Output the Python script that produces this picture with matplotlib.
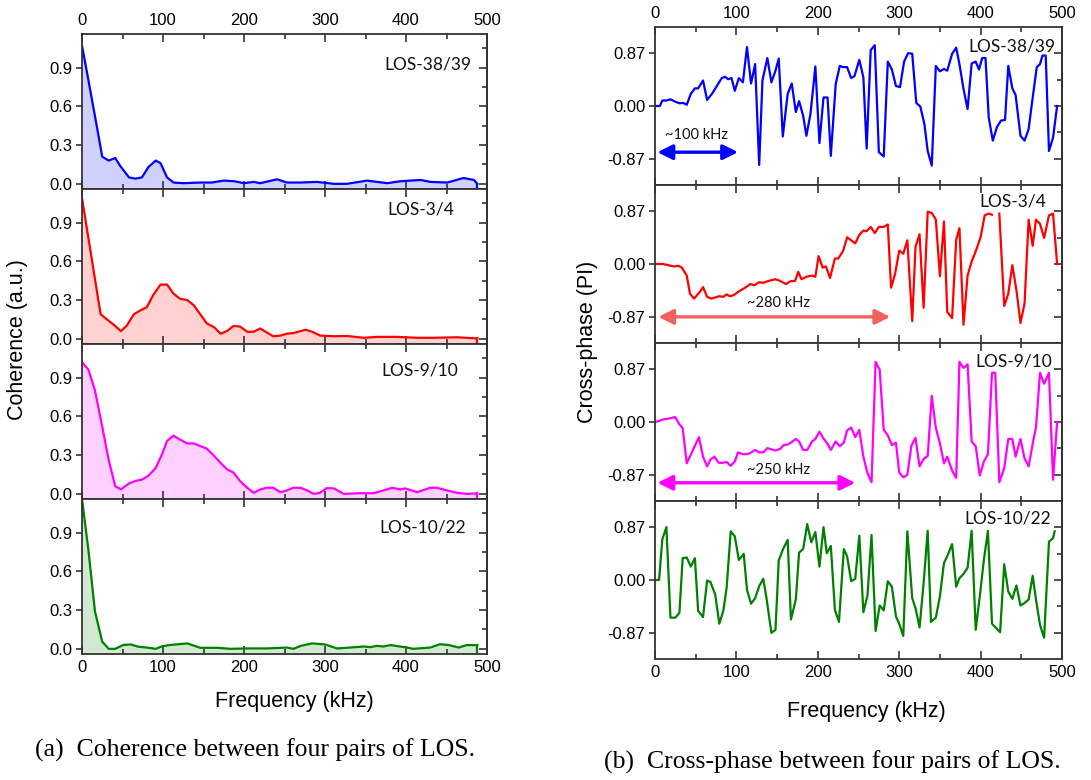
import numpy as np
import matplotlib.pyplot as plt
from matplotlib.ticker import MultipleLocator, FixedLocator

# ---- coherence (left column) ----
coh_freq_1 = [0, 8, 17, 25, 33, 41, 47, 58, 66, 74, 82, 91, 97, 105, 113, 125, 146, 160, 175, 188,
              200, 212, 220, 241, 253, 270, 290, 311, 327, 352, 377, 393, 418, 430, 451, 471, 484, 488]
coh_val_1 = [1.07, 0.80, 0.49, 0.21, 0.18, 0.20, 0.14, 0.05, 0.04, 0.05, 0.13, 0.18, 0.16, 0.05, 0.01,
             0.005, 0.01, 0.01, 0.025, 0.02, 0.005, 0.015, 0.005, 0.035, 0.01, 0.01, 0.015, 0.0, 0.0,
             0.025, 0.005, 0.02, 0.03, 0.015, 0.01, 0.045, 0.03, 0.0]

coh_freq_2 = [0, 23, 31, 41, 48, 55, 64, 72, 80, 88, 97, 105, 113, 121, 130, 138, 146, 154, 163, 171,
              179, 187, 195, 204, 212, 220, 228, 236, 245, 253, 261, 270, 276, 284, 294, 311, 327, 348,
              364, 389, 414, 434, 463, 488]
coh_val_2 = [1.09, 0.19, 0.15, 0.10, 0.06, 0.10, 0.19, 0.22, 0.245, 0.34, 0.42, 0.42, 0.35, 0.31, 0.30,
             0.26, 0.19, 0.12, 0.09, 0.04, 0.06, 0.10, 0.095, 0.055, 0.055, 0.08, 0.05, 0.02, 0.025,
             0.04, 0.045, 0.06, 0.07, 0.055, 0.025, 0.02, 0.022, 0.008, 0.015, 0.015, 0.008, 0.008,
             0.012, 0.003]

coh_freq_3 = [0, 8, 16, 25, 33, 41, 48, 58, 66, 74, 82, 91, 99, 105, 113, 121, 130, 138, 146, 154,
              163, 171, 179, 187, 195, 204, 212, 220, 228, 236, 245, 253, 261, 270, 278, 286, 294, 302,
              311, 323, 344, 360, 372, 383, 393, 399, 414, 430, 438, 451, 463, 475, 488]
coh_val_3 = [1.02, 0.96, 0.80, 0.52, 0.26, 0.06, 0.035, 0.08, 0.10, 0.11, 0.14, 0.20, 0.31, 0.41, 0.45,
             0.42, 0.39, 0.39, 0.37, 0.35, 0.295, 0.24, 0.19, 0.165, 0.10, 0.047, 0.008, 0.034, 0.047,
             0.047, 0.013, 0.026, 0.047, 0.047, 0.026, 0.0, 0.008, 0.044, 0.042, 0.0, 0.005, 0.005,
             0.026, 0.047, 0.034, 0.042, 0.013, 0.047, 0.047, 0.026, 0.008, 0.0, 0.003]

coh_freq_4 = [0, 8, 16, 25, 33, 41, 51, 60, 70, 80, 91, 99, 109, 130, 146, 167, 183, 204, 228, 253,
              261, 270, 284, 300, 315, 331, 348, 356, 364, 372, 381, 401, 409, 430, 442, 453, 465, 475, 488]
coh_val_4 = [1.16, 0.76, 0.29, 0.055, 0.0, 0.0, 0.03, 0.034, 0.016, 0.01, 0.0, 0.02, 0.03, 0.042, 0.008,
             0.008, 0.0, 0.003, 0.003, 0.01, 0.0, 0.023, 0.042, 0.034, 0.003, 0.01, 0.018, 0.013, 0.023,
             0.018, 0.029, 0.01, 0.0, 0.01, 0.036, 0.029, 0.01, 0.029, 0.029]

# ---- cross-phase (right column) ----
cp_freq_1 = [0, 6, 9, 14, 19, 25, 30, 35, 39, 44, 49, 53, 59, 64, 70, 76, 82, 86, 90, 94,
             98, 103, 108, 113, 118, 123, 128, 132, 138, 143, 148, 152, 157, 163, 168, 173, 177, 182, 186, 191,
             197, 202, 207, 212, 216, 222, 227, 231, 236, 241, 245, 251, 256, 260, 265, 270, 275, 281, 286, 291,
             296, 301, 306, 311, 316, 321, 326, 331, 335, 340, 345, 350, 355, 359, 365, 370, 374, 379, 384, 389,
             394, 398, 402, 406, 410, 415, 420, 425, 430, 434, 439, 443, 449, 454, 459, 464, 469, 473, 476, 480,
             484, 489, 494]
cp_val_1 = [0, 0, 0.09, 0.09, 0.11, 0.07, 0.045, 0.05, 0.02, 0.2, 0.29, 0.29, 0.42, 0.10, 0.2, 0.33, 0.46, 0.48, 0.44, 0.46,
            0.25, 0.46, 0.39, 0.97, 0.37, 0.69, -0.97, 0.42, 0.79, 0.39, 0.58, 0.78, -0.5, 0.2, 0.37, -0.10, 0.08, -0.16, -0.49, -0.13,
            0.65, -0.61, 0.14, 0.14, -0.82, 0.36, 0.66, 0.64, 0.64, 0.46, 0.49, 0.76, 0.47, -0.70, 0.92, 1.00, -0.76, -0.83, 0.73, 0.60,
            0.33, 0.31, 0.73, 0.87, 0.86, 0.05, -0.01, -0.30, -0.74, -0.98, 0.66, 0.57, 0.61, 0.58, 0.86, 0.96, 0.69, 0.28, -0.05, 0.70,
            0.73, 0.60, 0.79, 0.79, -0.19, -0.57, -0.35, -0.24, -0.23, 0.66, 0.29, 0.18, -0.49, -0.57, -0.38, 0.14, 0.64, 0.69, 0.83, 0.83,
            -0.74, -0.52, 0]

cp_freq_2 = [0, 10, 23, 29, 33, 39, 43, 48, 55, 59, 64, 69, 74, 79, 84, 88, 92, 97, 102, 107,
             113, 117, 122, 128, 133, 139, 148, 154, 161, 167, 172, 176, 180, 186, 193, 197, 201, 206, 210, 215,
             221, 225, 231, 236, 241, 246, 251, 256, 260, 265, 270, 275, 281, 286, 290, 295, 300, 305, 310, 316,
             320, 325, 330, 335, 340, 345, 350, 355, 359, 365, 370, 374, 379, 384, 389, 394, 400, 405, 410, 414,
             418, 423, 429, 434, 439, 444, 449, 454, 459, 464, 468, 473, 478, 484, 489, 494]
cp_val_2 = [0, 0, -0.04, -0.03, -0.06, -0.19, -0.49, -0.57, -0.46, -0.38, -0.54, -0.57, -0.55, -0.53, -0.54, -0.50, -0.53, -0.51, -0.46, -0.42,
            -0.37, -0.33, -0.35, -0.30, -0.31, -0.28, -0.25, -0.28, -0.33, -0.28, -0.28, -0.13, -0.25, -0.21, -0.19, -0.21, 0.13, -0.06, -0.04, -0.23,
            0.09, 0.09, 0.21, 0.44, 0.39, 0.34, 0.48, 0.55, 0.54, 0.61, 0.51, 0.61, 0.61, 0.65, -0.39, -0.16, 0.22, 0.17, 0.39, -0.94,
            0.28, 0.49, -0.72, 0.86, 0.84, 0.73, -0.20, 0.70, -0.79, -0.89, 0.40, 0.59, -1.0, -0.19, 0.04, 0.21, 0.44, 0.80, 0.83, 0.81,
            np.nan, 0.83, -0.69, -0.49, -0.02, -0.43, -0.97, -0.65, 0.73, 0.30, 0.73, 0.66, 0.43, 0.80, 0.83, 0.0]

cp_freq_3 = [0, 6, 9, 14, 25, 30, 34, 39, 44, 49, 54, 59, 64, 68, 73, 78, 84, 88, 93, 98,
             102, 108, 113, 117, 123, 128, 133, 138, 143, 148, 154, 158, 163, 168, 173, 177, 182, 187, 193, 197,
             202, 207, 212, 216, 222, 227, 232, 236, 241, 246, 251, 256, 261, 266, 271, 276, 281, 286, 291, 296,
             300, 305, 310, 315, 320, 325, 330, 335, 340, 345, 350, 355, 359, 365, 370, 374, 379, 384, 389, 394,
             399, 404, 409, 414, 418, 423, 429, 434, 439, 443, 449, 454, 459, 464, 468, 473, 478, 484, 489, 494]
cp_val_3 = [0, 0.02, 0.04, 0.05, 0.08, -0.04, -0.10, -0.68, -0.54, -0.39, -0.25, -0.57, -0.73, -0.62, -0.57, -0.67, -0.67, -0.66, -0.72, -0.65,
            -0.50, -0.53, -0.53, -0.51, -0.46, -0.50, -0.50, -0.43, -0.45, -0.47, -0.44, -0.38, -0.37, -0.33, -0.28, -0.32, -0.46, -0.46, -0.32, -0.28,
            -0.16, -0.27, -0.36, -0.46, -0.32, -0.40, -0.34, -0.14, -0.09, -0.25, -0.13, -0.57, -0.84, -0.99, 0.99, 0.86, -0.13, -0.22, -0.38, -0.34,
            -0.83, -0.91, -0.87, -0.39, -0.26, -0.73, -0.61, -0.56, 0.43, -0.10, -0.35, -0.68, -0.57, -0.80, -0.92, 0.99, 0.89, 0.95, -0.32, -0.40,
            -0.88, -0.65, -0.53, 0.81, 0.81, -0.99, -0.76, -0.28, -0.28, -0.57, -0.28, -0.60, -0.73, -0.36, -0.09, 0.81, 0.63, 0.81, -0.95, 0]

cp_freq_4 = [0, 5, 9, 14, 19, 25, 30, 34, 39, 44, 49, 53, 59, 64, 68, 74, 79, 84, 88, 93,
             98, 103, 109, 113, 118, 123, 128, 133, 137, 143, 148, 152, 157, 163, 167, 173, 177, 182, 187, 192,
             197, 202, 207, 211, 216, 221, 226, 232, 236, 241, 246, 251, 256, 261, 266, 271, 276, 281, 286, 291,
             296, 300, 305, 310, 316, 320, 325, 330, 335, 339, 345, 350, 355, 359, 365, 370, 374, 379, 384, 389,
             394, 399, 404, 409, 414, 419, 424, 429, 434, 439, 444, 449, 454, 459, 464, 468, 473, 478, 484, 489, 491]
cp_val_4 = [0, 0, 0.67, 0.87, -0.62, -0.62, -0.54, 0.36, 0.37, 0.22, 0.36, -0.51, -0.61, -0.01, -0.03, -0.24, -0.72, -0.50, -0.13, 0.80,
            0.72, 0.33, 0.43, -0.16, -0.39, -0.30, -0.10, 0.02, -0.30, -0.87, -0.82, 0.32, 0.50, 0.66, -0.65, -0.32, 0.45, 0.51, 0.92, 0.62,
            0.79, 0.22, 0.87, 0.44, 0.56, -0.49, -0.69, 0.51, 0.39, -0.02, 0.02, 0.73, -0.53, -0.26, 0.74, -0.84, -0.42, -0.50, -0.02, -0.11,
            -0.60, -0.72, -0.92, 0.80, -0.30, -0.46, -0.78, -0.05, 0.81, -0.69, -0.62, -0.27, 0.28, 0.39, 0.59, -0.11, 0.03, 0.10, 0.20, 0.81,
            -0.82, -0.27, 0.33, 0.81, -0.72, -0.79, -0.86, 0.26, -0.19, -0.31, -0.09, -0.42, -0.38, -0.32, 0.07, -0.32, -0.74, -0.95, 0.63, 0.69, 0.80]

labels = ['LOS-38/39', 'LOS-3/4', 'LOS-9/10', 'LOS-10/22']
colors = ['#0000ff', '#ff0000', '#ff00ff', '#008000']
coh_freqs = [coh_freq_1, coh_freq_2, coh_freq_3, coh_freq_4]
coh_vals = [coh_val_1, coh_val_2, coh_val_3, coh_val_4]
cp_freqs = [cp_freq_1, cp_freq_2, cp_freq_3, cp_freq_4]
cp_vals = [cp_val_1, cp_val_2, cp_val_3, cp_val_4]

# label anchors (right edge, centre) in data units
coh_label_x = [481, 460, 464, 474]
coh_label_y = [0.92, 1.0, 0.955, 0.94]
cp_label_x = [492, 481, 488, 487]
cp_label_y = [0.98, 1.03, 1.0, 1.02]

# correlation-width arrows: start, end, y, text, text x, text y
arrow_start = [3, 4, 3]
arrow_end = [102, 289, 246]
arrow_y = [-0.76, -0.87, -1.0]
arrow_text = ['~100 kHz', '~280 kHz', '~250 kHz']
arrow_text_x = [51, 152, 152]
arrow_text_y = [-0.48, -0.64, -0.79]
arrow_colors = ['#0000ff', '#f26060', '#ff00ff']

plt.rcParams['font.family'] = 'Liberation Sans'
W, H = 1091, 780
fig = plt.figure(figsize=(W / 100, H / 100), dpi=100)

spine_col = '#333333'
TICK_FS = 12


def style_axes(ax, ymaj, yminor, ylim):
    ax.set_xlim(0, 500)
    ax.set_ylim(*ylim)
    ax.xaxis.set_major_locator(MultipleLocator(100))
    ax.xaxis.set_minor_locator(MultipleLocator(50))
    ax.yaxis.set_major_locator(FixedLocator(ymaj))
    ax.yaxis.set_minor_locator(FixedLocator(yminor))
    for s in ax.spines.values():
        s.set_color(spine_col)
        s.set_linewidth(1.3)
    ax.tick_params(axis='x', which='both', direction='in', top=True, bottom=True,
                   labeltop=False, labelbottom=False, color=spine_col, width=1.2)
    ax.tick_params(axis='x', which='major', length=6)
    ax.tick_params(axis='x', which='minor', length=3.5)
    ax.tick_params(axis='y', which='both', direction='out', left=True, right=False,
                   labelsize=TICK_FS, color=spine_col, width=1.2, pad=3)
    ax.tick_params(axis='y', which='major', length=4)
    ax.tick_params(axis='y', which='minor', length=0)
    ax.tick_params(axis='x', labelsize=TICK_FS, pad=4)
    sec = ax.secondary_yaxis('right')
    sec.set_yticks(ymaj)
    sec.yaxis.set_minor_locator(FixedLocator(yminor))
    sec.tick_params(axis='y', which='both', direction='in', labelright=False,
                    color=spine_col, width=1.2)
    sec.tick_params(axis='y', which='major', length=6)
    sec.tick_params(axis='y', which='minor', length=3.5)
    sec.spines['right'].set_color(spine_col)
    sec.spines['right'].set_linewidth(1.3)


# left column
lx0, lx1 = 82, 487
ly_top, lh = 34, 155
coh_ylim = (-0.04, 1.16)
for i in range(4):
    top = ly_top + i * lh
    ax = fig.add_axes([lx0 / W, 1 - (top + lh) / H, (lx1 - lx0) / W, lh / H])
    style_axes(ax, [0, 0.3, 0.6, 0.9], [0.15, 0.45, 0.75, 1.05], coh_ylim)
    ax.set_yticklabels(['0.0', '0.3', '0.6', '0.9'])
    f = coh_freqs[i]
    v = coh_vals[i]
    ax.fill_between(f, v, coh_ylim[0], color=colors[i], alpha=0.18, lw=0)
    ax.plot(f, v, color=colors[i], lw=1.6)
    ax.plot([f[-1], f[-1]], [v[-1], coh_ylim[0]], color=colors[i], lw=1.6)
    ax.text(coh_label_x[i], coh_label_y[i], labels[i], ha='right', va='center',
            fontsize=12.5, family='Lato', color='#111111')
    if i == 0:
        ax.tick_params(axis='x', which='major', labeltop=True)
    if i == 3:
        ax.tick_params(axis='x', which='major', labelbottom=True)

fig.text(18 / W, 1 - 340 / H, 'Coherence (a.u.)', rotation=90, ha='center', va='center',
         fontsize=15.5)
fig.text(294 / W, 1 - 702 / H, 'Frequency (kHz)', ha='center', va='center', fontsize=15.5)

# right column
rx0, rx1 = 655, 1062
ry_top, rh = 27, 158
cp_ylim = (-1.3, 1.3)
for i in range(4):
    top = ry_top + i * rh
    ax = fig.add_axes([rx0 / W, 1 - (top + rh) / H, (rx1 - rx0) / W, rh / H])
    style_axes(ax, [-0.87, 0, 0.87], [-0.435, 0.435], cp_ylim)
    ax.set_yticklabels(['-0.87', '0.00', '0.87'])
    ax.plot(cp_freqs[i], cp_vals[i], color=colors[i], lw=1.6)
    ax.text(cp_label_x[i], cp_label_y[i], labels[i], ha='right', va='center',
            fontsize=12.5, family='Lato', color='#111111')
    if i < 3:
        ax.annotate('', xy=(arrow_end[i], arrow_y[i]), xytext=(arrow_start[i], arrow_y[i]),
                    arrowprops=dict(arrowstyle='<|-|>,head_length=0.9,head_width=0.45',
                                    color=arrow_colors[i], lw=2.4, shrinkA=0, shrinkB=0))
        ax.text(arrow_text_x[i], arrow_text_y[i], arrow_text[i], ha='center', va='center',
                fontsize=10.5, family='Lato', color='#111111')
    if i == 0:
        ax.tick_params(axis='x', which='major', labeltop=True)
    if i == 3:
        ax.tick_params(axis='x', which='major', labelbottom=True)

fig.text(587 / W, 1 - 342 / H, 'Cross-phase (PI)', rotation=90, ha='center', va='center',
         fontsize=15.5)
fig.text(866 / W, 1 - 711 / H, 'Frequency (kHz)', ha='center', va='center', fontsize=15.5)

fig.text(255 / W, 1 - 750 / H, '(a)  Coherence between four pairs of LOS.', ha='center',
         va='center', fontsize=18.5, family='Liberation Serif')
fig.text(832 / W, 1 - 762 / H, '(b)  Cross-phase between four pairs of LOS.', ha='center',
         va='center', fontsize=18.5, family='Liberation Serif')

fig.savefig('out.png', dpi=100)
